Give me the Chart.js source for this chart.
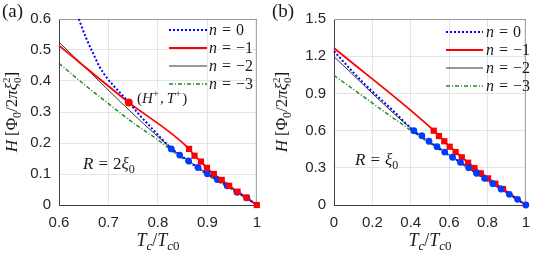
<!DOCTYPE html>
<html><head><meta charset="utf-8">
<script src="https://cdn.jsdelivr.net/npm/chart.js@4/dist/chart.umd.min.js"></script>
<style>
html,body{margin:0;padding:0;background:#fff;}
#wrap{position:relative;width:539px;height:255px;overflow:hidden;background:#fff;}
.p{position:absolute;top:0;height:255px;}
</style></head><body>
<div id="wrap">
<div class="p" style="left:0;width:270px"><canvas id="ca" width="270" height="255"></canvas></div>
<div class="p" style="left:270px;width:269px"><canvas id="cb" width="269" height="255"></canvas></div>
</div>
<script>
// ---------- Panel (a): R = 2xi0 ----------
const xTicksA = [0.6, 0.7, 0.8, 0.9, 1];
const xTickLabelsA = ['0.6', '0.7', '0.8', '0.9', '1'];
const yTicksA = [0, 0.1, 0.2, 0.3, 0.4, 0.5, 0.6];
const yTickLabelsA = ['0', '0.1', '0.2', '0.3', '0.4', '0.5', '0.6'];

const n0A_T = [0.640, 0.655, 0.669, 0.682, 0.695, 0.709, 0.722, 0.741, 0.762, 0.785, 0.827, 0.862, 0.900, 0.940, 0.980, 1.000];
const n0A_H = [0.600, 0.538, 0.489, 0.446, 0.414, 0.387, 0.365, 0.331, 0.292, 0.252, 0.183, 0.142, 0.101, 0.062, 0.022, 0.000];
const n1A_T = [0.600, 0.741, 0.863, 0.874, 0.887, 0.899, 0.913, 0.929, 0.944, 0.961, 0.979, 1.000];
const n1A_H = [0.514, 0.331, 0.181, 0.159, 0.140, 0.120, 0.100, 0.081, 0.062, 0.043, 0.024, 0.000];
const n2A_T = [0.600, 0.827, 0.862, 0.900, 0.940, 0.980, 1.000];
const n2A_H = [0.525, 0.183, 0.142, 0.101, 0.062, 0.022, 0.000];
const n3A_T = [0.600, 0.650, 0.700, 0.750, 0.800, 0.827, 0.862, 0.900, 0.940, 0.980, 1.000];
const n3A_H = [0.457, 0.390, 0.327, 0.265, 0.210, 0.177, 0.137, 0.097, 0.058, 0.020, 0.000];
const circA_T = [0.827, 0.844, 0.862, 0.881, 0.900, 0.920, 0.940, 0.960, 0.980];
const circA_H = [0.181, 0.161, 0.142, 0.121, 0.101, 0.082, 0.062, 0.041, 0.023];
const sqA_T = [0.863, 0.874, 0.887, 0.899, 0.913, 0.929, 0.944, 0.961, 0.979, 1.000];
const sqA_H = [0.181, 0.159, 0.140, 0.120, 0.100, 0.081, 0.062, 0.043, 0.024, 0.000];
const plusA_T = [0.741];
const plusA_H = [0.331];

// ---------- Panel (b): R = xi0 ----------
const xTicksB = [0, 0.2, 0.4, 0.6, 0.8, 1];
const xTickLabelsB = ['0', '0.2', '0.4', '0.6', '0.8', '1'];
const yTicksB = [0, 0.3, 0.6, 0.9, 1.2, 1.5];
const yTickLabelsB = ['0', '0.3', '0.6', '0.9', '1.2', '1.5'];

const circB_T = [0.416, 0.458, 0.495, 0.537, 0.577, 0.618, 0.659, 0.702, 0.743, 0.785, 0.828, 0.871, 0.914, 0.957, 1.000];
const circB_H = [0.599, 0.559, 0.514, 0.470, 0.427, 0.385, 0.344, 0.301, 0.256, 0.215, 0.172, 0.129, 0.086, 0.046, 0.000];
const sqB_T = [0.520, 0.547, 0.575, 0.603, 0.634, 0.666, 0.699, 0.732, 0.765, 0.803, 0.841, 0.881];
const sqB_H = [0.599, 0.556, 0.514, 0.470, 0.427, 0.385, 0.341, 0.298, 0.256, 0.215, 0.172, 0.129];
const n0B_T = [0.000, 0.050, 0.100, 0.150, 0.200, 0.300, 0.416, 0.495, 0.577, 0.659, 0.743, 0.828, 0.914, 1.000];
const n0B_H = [1.240, 1.155, 1.070, 0.990, 0.915, 0.772, 0.599, 0.514, 0.427, 0.344, 0.256, 0.172, 0.086, 0.000];
const n1B_T = [0.000, 0.520, 0.603, 0.699, 0.803, 0.881, 0.940, 1.000];
const n1B_H = [1.266, 0.601, 0.472, 0.343, 0.217, 0.131, 0.066, 0.000];
const n2B_T = [0.000, 0.416, 0.495, 0.577, 0.659, 0.743, 0.828, 0.914, 1.000];
const n2B_H = [1.196, 0.599, 0.514, 0.427, 0.344, 0.256, 0.172, 0.086, 0.000];
const n3B_T = [0.000, 0.416, 0.500, 0.600, 0.700, 0.800, 0.900, 1.000];
const n3B_H = [1.045, 0.585, 0.498, 0.395, 0.293, 0.196, 0.098, 0.000];

const legendLabels = ['0', '\u22121', '\u22122', '\u22123'];

// ---------- styling helpers ----------
const SER = "'Liberation Serif','DejaVu Serif',serif";
const IT = s => `italic ${s}px ${SER}`;
const RG = s => `${s}px ${SER}`;
const TXT = '#1a1a1a';
const BLUE = '#0000ff', RED = '#ff0000', BLACK = '#333333', GREEN = '#228b22';
const MBLUE = 'rgb(0,60,255)';
const STY = [
  {color: BLUE, w: 2, dash: [2, 2]},
  {color: RED, w: 1.8, dash: []},
  {color: BLACK, w: 1, dash: []},
  {color: GREEN, w: 1.5, dash: [4, 2, 1, 2]}
];

function pts(T, H) { return T.map((t, i) => ({x: t, y: H[i]})); }
function lineDS(T, H, s) {
  return {data: pts(T, H), showLine: true, borderColor: s.color, borderWidth: s.w, borderDash: s.dash,
    pointRadius: 0, fill: false, cubicInterpolationMode: 'monotone', clip: false};
}
function markDS(T, H, color, style, r) {
  return {data: pts(T, H), showLine: false, pointStyle: style, pointRadius: r, pointHoverRadius: r,
    backgroundColor: color, borderColor: color, borderWidth: 0, clip: false};
}
function richWidth(ctx, segs) {
  let w = 0;
  for (const s of segs) { ctx.font = s.f; if (!s.stack) w += ctx.measureText(s.t).width + (s.dx || 0); }
  return w;
}
function drawRich(ctx, segs, x, y, align) {
  const w = richWidth(ctx, segs);
  let cx = align === 'center' ? x - w / 2 : (align === 'right' ? x - w : x);
  for (const s of segs) {
    ctx.font = s.f;
    ctx.fillText(s.t, cx, y + (s.dy || 0));
    if (!s.stack) cx += ctx.measureText(s.t).width + (s.dx || 0);
  }
}

function yTitleSegs() {
  return [
    {t: 'H', f: IT(17), dx: 4}, {t: '[', f: RG(17)}, {t: '\u03A6', f: RG(17)}, {t: '0', f: RG(12), dy: 4},
    {t: '/', f: RG(17)}, {t: '2', f: RG(17)}, {t: '\u03C0', f: IT(17)}, {t: '\u03BE', f: IT(17)},
    {t: '2', f: RG(11), dy: -7, stack: true}, {t: '0', f: RG(11), dy: 4}, {t: ']', f: RG(17)}
  ];
}
function xTitleSegs() {
  return [
    {t: 'T', f: IT(18)}, {t: 'c', f: IT(13), dy: 4}, {t: '/', f: RG(18)},
    {t: 'T', f: IT(18)}, {t: 'c', f: IT(13), dy: 4}, {t: '0', f: RG(13), dy: 4}
  ];
}

function decoPlugin(cfg) {
  return {
    id: 'deco',
    beforeDatasetsDraw(chart) {
      const {ctx, chartArea: a} = chart;
      ctx.save();
      ctx.strokeStyle = '#9a9a9a';
      ctx.lineWidth = 1;
      ctx.beginPath();
      ctx.moveTo(a.left, a.top + 0.5); ctx.lineTo(a.right, a.top + 0.5);
      ctx.moveTo(a.right - 0.5, a.top); ctx.lineTo(a.right - 0.5, a.bottom);
      ctx.stroke();
      ctx.restore();
    },
    afterDraw(chart) {
      const {ctx, chartArea: a} = chart;
      ctx.save();
      ctx.fillStyle = TXT;
      ctx.textBaseline = 'alphabetic';
      // panel letter
      ctx.font = RG(19);
      ctx.fillText(cfg.letter, 2, 17);
      // y title (rotated)
      ctx.save();
      ctx.translate(17, (a.top + a.bottom) / 2);
      ctx.rotate(-Math.PI / 2);
      drawRich(ctx, yTitleSegs(), 0, 0, 'center');
      ctx.restore();
      // x title
      drawRich(ctx, xTitleSegs(), (a.left + a.right) / 2, 246, 'center');
      // legend
      const L = cfg.legend;
      STY.forEach((s, i) => {
        const y = L.ys[i];
        ctx.save();
        ctx.strokeStyle = s.color; ctx.lineWidth = s.w; ctx.setLineDash(s.dash);
        ctx.beginPath(); ctx.moveTo(L.x1, y); ctx.lineTo(L.x2, y); ctx.stroke();
        ctx.restore();
        drawRich(ctx, [{t: 'n', f: IT(16), dx: 5}, {t: '=', f: RG(16), dx: 5}, {t: legendLabels[i], f: RG(16)}], L.tx, y + 5, 'left');
      });
      // annotations
      drawRich(ctx, cfg.rLabel.segs, cfg.rLabel.x, cfg.rLabel.y, 'left');
      if (cfg.hLabel) drawRich(ctx, cfg.hLabel.segs, cfg.hLabel.x, cfg.hLabel.y, 'left');
      ctx.restore();
    }
  };
}

function makeChart(id, o) {
  const lab = (vals, labels) => v => { const k = vals.findIndex(t => Math.abs(t - v) < 1e-9); return k >= 0 ? labels[k] : ''; };
  return new Chart(document.getElementById(id), {
    type: 'scatter',
    data: {datasets: o.datasets},
    options: {
      responsive: false, animation: false, devicePixelRatio: 1, events: [],
      layout: {padding: {top: 19, right: o.padRight, left: 0, bottom: 0}},
      plugins: {legend: {display: false}, tooltip: {enabled: false}},
      scales: {
        x: {
          type: 'linear', min: o.xMin, max: o.xMax,
          afterBuildTicks: s => { s.ticks = o.xTicks.map(v => ({value: v})); },
          afterFit: s => { s.height = 50; },
          ticks: {callback: lab(o.xTicks, o.xLabels), color: '#262626', font: {family: "'Liberation Sans', Arial, sans-serif", size: 15}, padding: 9, maxRotation: 0, autoSkip: false},
          grid: {color: '#e4e4e4', lineWidth: 1, drawTicks: false},
          border: {color: '#404040', width: 1}
        },
        y: {
          type: 'linear', min: o.yMin, max: o.yMax,
          afterBuildTicks: s => { s.ticks = o.yTicks.map(v => ({value: v})); },
          afterFit: s => { s.width = o.yWidth; },
          ticks: {callback: lab(o.yTicks, o.yLabels), color: '#262626', font: {family: "'Liberation Sans', Arial, sans-serif", size: 15}, padding: 8, autoSkip: false},
          grid: {color: '#e4e4e4', lineWidth: 1, drawTicks: false},
          border: {color: '#404040', width: 1}
        }
      }
    },
    plugins: [decoPlugin(o.deco)]
  });
}

makeChart('ca', {
  xMin: 0.6, xMax: 1, yMin: 0, yMax: 0.6, xTicks: xTicksA, xLabels: xTickLabelsA, yTicks: yTicksA, yLabels: yTickLabelsA,
  yWidth: 59, padRight: 11,
  datasets: [
    markDS(plusA_T, plusA_H, RED, 'circle', 4),
    markDS(sqA_T, sqA_H, RED, 'rect', 4.4),
    markDS(circA_T, circA_H, MBLUE, 'circle', 3.4),
    lineDS(n0A_T, n0A_H, STY[0]),
    lineDS(n1A_T, n1A_H, STY[1]),
    lineDS(n2A_T, n2A_H, STY[2]),
    lineDS(n3A_T, n3A_H, STY[3])
  ],
  deco: {
    letter: '(a)',
    legend: {x1: 169, x2: 207, tx: 209, ys: [30, 48, 66, 84]},
    rLabel: {x: 83, y: 169, segs: [{t: 'R', f: IT(17), dx: 5}, {t: '=', f: RG(17), dx: 5}, {t: '2', f: RG(17)}, {t: '\u03BE', f: IT(17)}, {t: '0', f: RG(12), dy: 4}]},
    hLabel: {x: 137, y: 103, segs: [{t: '(', f: RG(15)}, {t: 'H', f: IT(15)}, {t: '+', f: RG(11), dy: -6, dx: 1}, {t: ',', f: RG(15), dx: 3}, {t: 'T', f: IT(15)}, {t: '+', f: RG(11), dy: -6, dx: 1}, {t: ')', f: RG(15)}]}
  }
});

makeChart('cb', {
  xMin: 0, xMax: 1, yMin: 0, yMax: 1.5, xTicks: xTicksB, xLabels: xTickLabelsB, yTicks: yTicksB, yLabels: yTickLabelsB,
  yWidth: 64, padRight: 3,
  datasets: [
    markDS(circB_T, circB_H, MBLUE, 'circle', 3.4),
    markDS(sqB_T, sqB_H, RED, 'rect', 4.4),
    lineDS(n0B_T, n0B_H, STY[0]),
    lineDS(n1B_T, n1B_H, STY[1]),
    lineDS(n2B_T, n2B_H, STY[2]),
    lineDS(n3B_T, n3B_H, STY[3])
  ],
  deco: {
    letter: '(b)',
    legend: {x1: 176, x2: 213, tx: 216, ys: [32, 50, 68, 86]},
    rLabel: {x: 85, y: 165, segs: [{t: 'R', f: IT(17), dx: 5}, {t: '=', f: RG(17), dx: 5}, {t: '\u03BE', f: IT(17)}, {t: '0', f: RG(12), dy: 4}]}
  }
});
</script>
</body></html>
